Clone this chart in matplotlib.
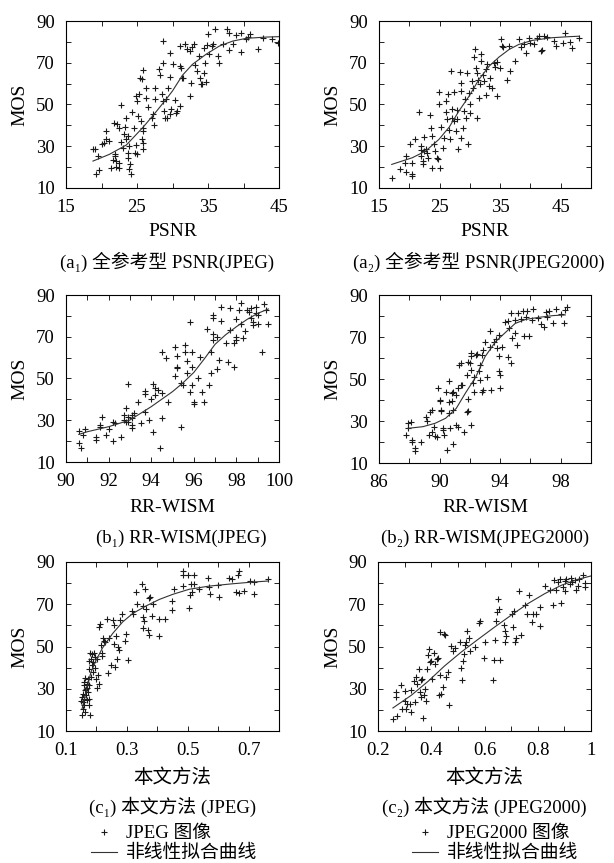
import numpy as np
import matplotlib
matplotlib.use("Agg")
import matplotlib.pyplot as plt
from matplotlib.ticker import FixedLocator, FormatStrFormatter

plt.rcParams['font.family'] = ['Liberation Serif', 'DejaVu Serif', 'Noto Sans CJK SC']

# (x, MOS) pairs
a1_points = [(18.8,28.8),(19.1,28.5),(19.5,25.5),(19.7,18.6),(19.2,16.5),(20.0,30.9),(20.3,31.4),(20.6,37.3),(20.7,33.3),(21.0,32.5),(21.3,19.7),(21.6,23.2),(21.9,26.1),(21.9,25.3),(22.0,22.9),(22.0,20.2),(22.5,22.1),(22.5,19.7),(21.8,41.3),(22.2,40.5),(22.4,38.6),(22.7,49.6),(22.7,32.2),(23.0,29.3),(23.1,36.0),(23.3,39.2),(23.5,43.7),(23.5,33.3),(23.8,34.9),(23.9,30.1),(23.7,26.9),(23.8,24.5),(24.0,21.3),(23.9,18.9),(24.2,16.5),(24.3,46.5),(24.6,38.9),(24.8,30.6),(24.7,26.9),(25.0,26.1),(24.9,54.1),(25.0,51.7),(25.3,54.9),(25.2,44.5),(25.6,42.1),(25.7,33.3),(25.8,31.7),(25.8,28.5),(25.4,62.8),(25.7,62.0),(25.9,66.5),(25.9,38.9),(26.2,58.1),(26.3,53.3),(26.5,48.8),(25.9,37.3),(27.1,43.7),(27.3,45.3),(27.4,40.2),(27.6,52.5),(27.5,58.1),(28.1,66.8),(28.3,64.1),(28.5,55.2),(28.6,51.7),(28.6,70.0),(28.7,80.4),(28.8,46.9),(28.9,43.7),(29.1,52.5),(29.2,43.7),(29.3,58.1),(29.6,74.8),(29.7,63.2),(29.6,45.6),(29.8,47.7),(30.0,69.2),(30.3,52.1),(30.5,46.1),(30.7,46.9),(31.0,49.3),(31.1,68.4),(31.1,78.0),(31.2,67.6),(31.3,62.8),(31.5,62.5),(31.8,79.1),(32.1,76.4),(32.4,54.1),(32.6,60.1),(32.7,77.5),(32.4,75.6),(33.0,78.8),(33.2,68.8),(33.5,66.0),(33.8,73.2),(33.9,62.8),(34.0,60.0),(34.2,59.6),(34.4,64.9),(34.4,77.2),(34.6,69.7),(34.7,60.8),(34.9,78.3),(35.0,83.6),(35.2,74.3),(35.5,78.0),(35.7,78.8),(36.0,86.0),(36.4,73.2),(36.5,69.7),(37.1,79.1),(37.7,86.0),(37.9,84.4),(37.9,75.9),(38.5,79.1),(38.9,83.1),(39.6,84.4),(39.7,75.1),(40.4,81.2),(40.6,82.3),(40.9,83.6),(42.1,76.4),(42.8,81.7),(44.0,81.2),(44.9,79.6)]
a1_fit = [(18.8,22.9),(21.1,26.1),(23.5,30.6),(25.8,38.9),(27.4,45.3),(29.1,52.5),(30.0,56.5),(31.4,64.0),(32.8,69.2),(34.7,74.0),(36.6,78.0),(38.5,80.4),(40.4,81.7),(43.2,82.3),(45.0,82.5)]

a2_points = [(17.1,14.9),(18.4,19.2),(19.4,25.3),(19.3,22.1),(19.5,17.8),(20.5,22.1),(20.5,15.7),(20.5,16.5),(20.9,33.3),(20.2,31.2),(21.6,46.4),(21.9,30.1),(21.9,28.0),(22.0,25.3),(22.2,22.9),(22.3,21.3),(22.4,27.7),(22.7,28.5),(23.0,26.9),(23.1,24.5),(22.5,34.4),(23.5,45.0),(23.6,38.9),(23.7,34.9),(23.8,19.4),(24.1,30.9),(24.2,27.7),(24.5,24.5),(24.8,23.7),(24.9,56.1),(24.9,50.1),(25.1,19.7),(25.2,39.2),(25.5,29.3),(25.7,34.1),(26.0,51.7),(26.1,46.6),(26.3,42.9),(26.4,55.2),(26.6,37.8),(26.7,33.3),(26.9,66.0),(27.0,47.7),(27.1,43.7),(27.4,56.1),(27.4,42.1),(27.7,37.3),(27.8,47.2),(27.9,42.9),(28.1,28.5),(28.4,65.6),(28.5,56.5),(28.5,34.1),(28.6,60.4),(28.9,38.9),(29.0,46.9),(29.2,52.5),(29.4,43.7),(29.6,65.2),(29.7,31.2),(29.9,55.7),(30.0,50.1),(30.1,46.1),(30.3,61.2),(30.5,58.1),(30.7,72.9),(30.9,76.7),(31.0,67.6),(31.1,43.7),(31.2,65.2),(31.4,61.6),(31.5,53.3),(31.7,59.6),(31.9,74.3),(31.9,70.8),(32.1,64.0),(32.3,61.2),(32.6,66.8),(32.7,54.5),(32.9,69.2),(33.2,58.8),(33.4,62.8),(33.6,58.1),(34.0,70.0),(34.2,68.0),(34.4,54.1),(34.4,70.5),(34.9,67.6),(35.1,81.2),(35.3,78.0),(35.4,77.5),(36.2,61.6),(36.5,78.0),(36.7,66.0),(37.4,70.8),(38.1,81.2),(38.4,77.5),(38.9,78.8),(39.2,74.8),(39.7,82.0),(40.0,79.6),(40.6,78.8),(41.1,81.7),(41.4,82.8),(41.9,75.9),(41.7,75.6),(42.2,82.8),(42.8,82.3),(43.9,80.4),(44.2,78.0),(45.3,79.6),(45.7,84.4),(46.6,80.1),(46.8,76.9),(48.0,81.7)]
a2_fit = [(17.1,21.3),(20.5,24.5),(22.7,27.7),(24.9,33.3),(26.6,39.2),(28.2,46.9),(29.9,54.1),(31.5,62.0),(33.2,68.4),(34.8,72.7),(36.5,76.4),(38.1,78.8),(40.3,80.7),(43.6,82.0),(46.4,82.5),(48.0,82.7)]

b1_points = [(90.6,24.8),(90.6,19.2),(90.7,16.8),(90.8,22.9),(90.9,25.6),(91.4,22.1),(91.4,20.5),(91.6,26.9),(91.6,27.7),(91.7,31.7),(91.9,22.9),(92.0,25.8),(92.2,20.2),(92.2,29.3),(92.3,28.5),(92.6,22.1),(92.7,32.5),(92.7,30.1),(92.8,29.0),(92.8,35.7),(92.9,47.3),(92.9,31.7),(92.9,29.3),(93.1,27.7),(93.1,32.5),(93.1,31.2),(93.1,26.1),(93.2,33.3),(93.4,38.9),(93.5,28.5),(93.7,34.1),(93.7,42.4),(93.7,44.0),(93.9,30.1),(94.0,40.0),(94.1,47.2),(94.1,24.5),(94.2,45.6),(94.2,42.1),(94.3,44.5),(94.4,16.8),(94.5,42.9),(94.5,31.2),(94.5,62.8),(94.7,59.6),(94.8,38.9),(95.1,64.9),(95.1,51.2),(95.2,60.8),(95.2,55.7),(95.2,55.2),(95.4,26.9),(95.4,47.7),(95.5,46.9),(95.6,66.0),(95.6,62.8),(95.7,58.4),(95.7,52.8),(95.8,43.7),(95.8,77.2),(95.9,55.7),(95.9,46.9),(95.9,62.8),(96.0,38.9),(96.0,37.6),(96.2,50.4),(96.3,60.4),(96.4,43.7),(96.5,38.6),(96.6,73.5),(96.7,46.9),(96.8,52.5),(96.8,62.5),(96.9,80.4),(96.9,78.8),(96.9,71.3),(96.9,68.4),(97.1,70.0),(97.1,54.4),(97.2,58.8),(97.3,84.1),(97.3,77.5),(97.5,67.2),(97.6,58.1),(97.7,83.6),(97.7,73.2),(97.9,66.8),(97.9,55.7),(98.0,69.7),(98.0,68.4),(98.0,78.5),(98.1,82.8),(98.2,75.9),(98.3,69.6),(98.2,86.0),(98.4,72.7),(98.5,82.8),(98.6,81.7),(98.7,79.1),(98.7,83.9),(98.8,77.2),(98.8,75.6),(98.9,81.2),(98.9,84.1),(99.0,75.9),(99.0,80.4),(99.2,62.8),(99.3,85.7),(99.4,82.8),(99.5,75.9)]
b1_fit = [(90.6,23.2),(91.0,24.5),(92.0,26.9),(93.0,30.1),(94.0,36.5),(95.0,43.7),(95.5,48.0),(96.0,52.9),(96.5,59.5),(97.0,66.4),(97.5,71.0),(98.0,74.8),(98.5,78.3),(99.0,81.2),(99.5,83.3)]

b2_points = [(87.9,26.5),(87.8,23.3),(87.9,29.2),(88.1,29.4),(88.2,20.2),(88.2,21.0),(88.4,17.0),(88.4,15.9),(88.8,20.2),(89.1,32.1),(89.2,30.0),(89.3,23.3),(89.4,34.4),(89.5,24.9),(89.5,35.2),(89.6,27.3),(89.7,23.0),(89.8,22.5),(89.9,45.9),(90.0,40.0),(90.0,39.7),(90.1,34.8),(90.1,35.2),(90.2,26.5),(90.2,25.7),(90.3,23.3),(90.4,44.0),(90.5,16.2),(90.6,49.0),(90.6,39.2),(90.6,33.7),(90.7,26.5),(90.8,39.5),(90.8,43.2),(90.9,44.0),(90.9,18.9),(90.9,35.2),(91.1,42.4),(91.1,28.1),(91.2,45.6),(91.2,27.3),(91.3,56.7),(91.4,57.5),(91.4,47.1),(91.5,47.1),(91.6,24.9),(91.8,51.9),(91.8,34.4),(91.9,34.8),(91.9,40.5),(91.9,58.3),(92.0,57.5),(92.1,62.2),(92.1,61.1),(92.1,28.1),(92.1,54.3),(92.2,47.9),(92.3,44.0),(92.3,51.1),(92.4,61.4),(92.5,61.7),(92.6,53.8),(92.7,49.5),(92.7,56.7),(92.8,61.4),(92.8,44.0),(92.9,44.8),(92.9,63.8),(93.0,67.8),(93.1,51.1),(93.3,65.4),(93.3,72.9),(93.4,44.8),(93.6,67.8),(93.7,68.9),(93.8,64.9),(93.9,71.0),(93.9,61.1),(93.9,53.8),(94.0,51.9),(94.0,45.9),(94.1,65.4),(94.3,77.3),(94.5,60.6),(94.5,77.6),(94.6,74.4),(94.7,81.3),(94.7,57.5),(94.8,69.4),(95.0,78.1),(95.0,72.1),(95.1,66.2),(95.2,81.3),(95.4,78.6),(95.5,82.4),(95.6,70.6),(95.7,79.7),(95.8,82.4),(95.9,70.6),(96.1,78.1),(96.2,83.3),(96.5,78.9),(96.7,76.0),(96.9,74.9),(97.0,82.1),(97.1,79.7),(97.2,82.4),(97.5,76.5),(97.7,83.2),(98.0,80.8),(98.2,76.8),(98.3,82.9),(98.4,84.4)]
b2_fit = [(87.9,26.5),(88.9,27.3),(89.7,28.9),(90.4,31.3),(91.1,36.0),(91.7,43.2),(92.4,51.1),(93.0,60.6),(93.7,67.8),(94.4,72.5),(95.0,76.5),(95.7,78.4),(96.6,79.4),(97.5,80.2),(98.3,80.5)]

c1_points = [(0.153,17.4),(0.155,20.6),(0.157,23.8),(0.153,26.1),(0.155,27.7),(0.158,25.3),(0.160,22.2),(0.160,31.6),(0.162,29.3),(0.164,19.0),(0.166,30.1),(0.166,26.9),(0.168,32.4),(0.169,24.5),(0.171,28.5),(0.172,34.5),(0.174,22.2),(0.177,25.3),(0.179,17.4),(0.174,39.5),(0.177,43.0),(0.180,47.1),(0.182,44.3),(0.185,41.1),(0.188,37.9),(0.190,42.7),(0.193,47.1),(0.196,39.8),(0.199,34.8),(0.201,30.4),(0.205,36.4),(0.210,32.4),(0.202,44.3),(0.207,59.2),(0.212,60.8),(0.215,50.6),(0.217,47.1),(0.218,45.5),(0.223,54.0),(0.226,52.5),(0.229,52.1),(0.235,62.9),(0.237,37.6),(0.242,54.0),(0.248,41.1),(0.256,62.4),(0.257,60.0),(0.259,51.4),(0.262,40.3),(0.264,55.0),(0.266,43.9),(0.270,49.8),(0.273,48.2),(0.277,62.4),(0.283,65.6),(0.295,52.5),(0.297,56.1),(0.303,43.5),(0.316,66.7),(0.319,65.6),(0.330,75.8),(0.332,70.0),(0.350,79.4),(0.352,69.0),(0.354,64.0),(0.357,61.9),(0.352,58.8),(0.361,77.4),(0.363,67.9),(0.368,57.7),(0.372,55.3),(0.374,73.0),(0.376,73.4),(0.383,64.3),(0.387,70.3),(0.407,62.9),(0.407,55.0),(0.426,62.9),(0.448,67.1),(0.448,71.4),(0.456,77.4),(0.483,78.6),(0.486,85.7),(0.486,83.7),(0.500,84.0),(0.503,68.2),(0.507,74.2),(0.511,79.7),(0.514,75.8),(0.522,84.0),(0.522,79.7),(0.538,77.4),(0.568,82.6),(0.571,78.2),(0.573,75.0),(0.598,79.0),(0.604,73.4),(0.637,82.4),(0.644,82.1),(0.659,75.8),(0.664,83.7),(0.667,85.6),(0.670,75.5),(0.686,76.3),(0.706,80.9),(0.719,75.0),(0.717,80.5),(0.765,81.8),(0.150,24.0),(0.158,33.0),(0.163,35.0),(0.170,30.5),(0.176,32.0),(0.183,35.5),(0.186,46.5),(0.195,45.0)]
c1_fit = [(0.153,20.6),(0.166,28.5),(0.182,37.9),(0.199,43.5),(0.220,49.3),(0.253,56.1),(0.286,61.6),(0.319,65.6),(0.363,69.2),(0.407,72.3),(0.451,74.7),(0.505,77.1),(0.571,78.6),(0.648,79.7),(0.713,80.5),(0.765,81.0)]

c2_points = [(0.256,15.9),(0.271,17.0),(0.269,28.5),(0.269,26.1),(0.285,31.6),(0.290,20.6),(0.303,28.8),(0.303,24.1),(0.306,20.6),(0.310,23.0),(0.319,23.0),(0.325,29.3),(0.325,19.0),(0.334,33.7),(0.340,23.8),(0.344,35.6),(0.348,32.4),(0.353,39.5),(0.356,28.5),(0.360,34.0),(0.363,26.1),(0.366,34.8),(0.369,16.2),(0.373,27.2),(0.375,29.7),(0.379,24.1),(0.385,39.2),(0.388,45.8),(0.392,48.7),(0.397,42.7),(0.400,43.0),(0.404,34.5),(0.410,47.1),(0.415,41.9),(0.422,44.3),(0.425,44.6),(0.429,26.9),(0.432,36.4),(0.435,27.7),(0.434,56.9),(0.444,30.9),(0.448,56.1),(0.450,55.6),(0.457,35.6),(0.463,38.0),(0.465,22.5),(0.473,50.3),(0.482,47.7),(0.488,49.3),(0.507,52.1),(0.513,39.8),(0.515,34.0),(0.519,43.0),(0.523,46.6),(0.528,50.9),(0.532,52.1),(0.536,57.2),(0.541,54.0),(0.544,47.7),(0.563,49.8),(0.578,61.3),(0.582,61.9),(0.598,44.6),(0.603,52.1),(0.634,43.5),(0.632,34.0),(0.641,52.9),(0.644,61.9),(0.648,66.3),(0.651,72.6),(0.653,67.9),(0.659,43.8),(0.672,60.0),(0.678,57.2),(0.678,52.1),(0.682,55.0),(0.705,65.6),(0.707,59.2),(0.711,66.7),(0.713,52.1),(0.720,54.0),(0.728,76.1),(0.738,55.6),(0.751,69.5),(0.760,65.6),(0.766,74.2),(0.778,61.6),(0.782,65.6),(0.795,65.6),(0.810,59.7),(0.810,68.7),(0.826,78.6),(0.845,76.6),(0.857,69.8),(0.860,81.3),(0.870,76.6),(0.876,80.5),(0.882,82.1),(0.886,70.8),(0.895,78.2),(0.901,76.1),(0.901,80.9),(0.907,82.1),(0.920,79.7),(0.924,82.4),(0.929,80.5),(0.939,81.3),(0.945,76.6),(0.951,78.6),(0.955,82.1),(0.970,83.7),(0.976,80.2),(0.979,78.2)]
c2_fit = [(0.256,20.9),(0.325,26.9),(0.388,33.5),(0.450,40.8),(0.513,47.4),(0.576,53.4),(0.638,59.2),(0.700,64.8),(0.763,70.3),(0.826,75.0),(0.889,79.0),(0.951,81.8),(1.0,83.4)]

mos_ticks = [10, 30, 50, 70, 90]
mos_minor = [20, 40, 60, 80]

W, H = 614, 863
fig = plt.figure(figsize=(W / 100, H / 100), dpi=100)

FS = 13.5
PT_COLOR = '#1a1a1a'


def px_rect(left, top, right, bottom):
    return [left / W, 1 - bottom / H, (right - left) / W, (bottom - top) / H]


def panel(rect, points, fit, xlim, xticks, xminor, xlabel, caption, cap_x, cap_y, lab_y, mos_x):
    ax = fig.add_axes(px_rect(*rect))
    pts = np.array(points)
    fx, fy = np.array(fit).T
    sc, = ax.plot(pts[:, 0], pts[:, 1], '+', color=PT_COLOR, ms=5, mew=0.8, linestyle='none')
    ln, = ax.plot(fx, fy, '-', color='#333333', lw=0.8)
    ax.set_xlim(*xlim)
    ax.set_ylim(10, 90)
    ax.xaxis.set_major_locator(FixedLocator(xticks))
    ax.xaxis.set_minor_locator(FixedLocator(xminor))
    ax.xaxis.set_major_formatter(FormatStrFormatter('%g'))
    ax.yaxis.set_major_locator(FixedLocator(mos_ticks))
    ax.yaxis.set_minor_locator(FixedLocator(mos_minor))
    ax.tick_params(which='both', direction='in', top=True, right=True,
                   length=3.5, width=0.6, labelsize=FS, pad=8)
    for s in ax.spines.values():
        s.set_linewidth(0.8)
    cx = (rect[0] + rect[2]) / 2 / W
    cy = 1 - (rect[1] + rect[3]) / 2 / H
    fig.text(cx, 1 - lab_y / H, xlabel, ha='center', va='center', fontsize=FS + 0.5)
    fig.text(mos_x / W, cy, 'MOS', rotation=90, ha='center', va='center', fontsize=FS + 0.5)
    fig.text(cap_x / W, 1 - cap_y / H, caption, ha='center', va='center', fontsize=FS)
    return ax, sc, ln


panel((66, 21, 279, 188), a1_points, a1_fit, (15, 45), [15, 25, 35, 45], [20, 30, 40], 'PSNR',
      '(a\u2081) 全参考型 PSNR(JPEG)', 167, 262, 232, 20)
panel((379, 21, 591, 188), a2_points, a2_fit, (15, 50), [15, 25, 35, 45], [20, 30, 40, 50], 'PSNR',
      '(a\u2082) 全参考型 PSNR(JPEG2000)', 479, 262, 232, 333)
panel((66, 295, 279, 462), b1_points, b1_fit, (90, 100), [90, 92, 94, 96, 98, 100],
      [91, 93, 95, 97, 99], 'RR-WISM', '(b\u2081) RR-WISM(JPEG)', 181, 538, 507, 20)
panel((379, 295, 591, 463), b2_points, b2_fit, (86, 100), [86, 90, 94, 98], [88, 92, 96, 100],
      'RR-WISM', '(b\u2082) RR-WISM(JPEG2000)', 485, 538, 507, 333)
ax1, sc1, ln1 = panel((66, 562, 279, 731), c1_points, c1_fit, (0.1, 0.8), [0.1, 0.3, 0.5, 0.7],
                      [0.2, 0.4, 0.6, 0.8], '本文方法', '(c\u2081) 本文方法 (JPEG)', 173, 807, 778, 20)
ax2, sc2, ln2 = panel((378, 562, 591, 731), c2_points, c2_fit, (0.2, 1.0), [0.2, 0.4, 0.6, 0.8, 1.0],
                      [0.3, 0.5, 0.7, 0.9], '本文方法', '(c\u2082) 本文方法 (JPEG2000)', 484, 807, 778, 333)

for ax, sc, ln, name, x0 in [(ax1, sc1, ln1, 'JPEG 图像', 91), (ax2, sc2, ln2, 'JPEG2000 图像', 412)]:
    ax.legend([sc, ln], [name, '非线性拟合曲线'], loc='upper left',
              bbox_to_anchor=(x0 / W, 1 - 825 / H), bbox_transform=fig.transFigure,
              frameon=False, fontsize=FS, handlelength=1.4, handletextpad=0.45,
              labelspacing=0.15, borderpad=0, borderaxespad=0)

fig.savefig('out.png', dpi=100)
